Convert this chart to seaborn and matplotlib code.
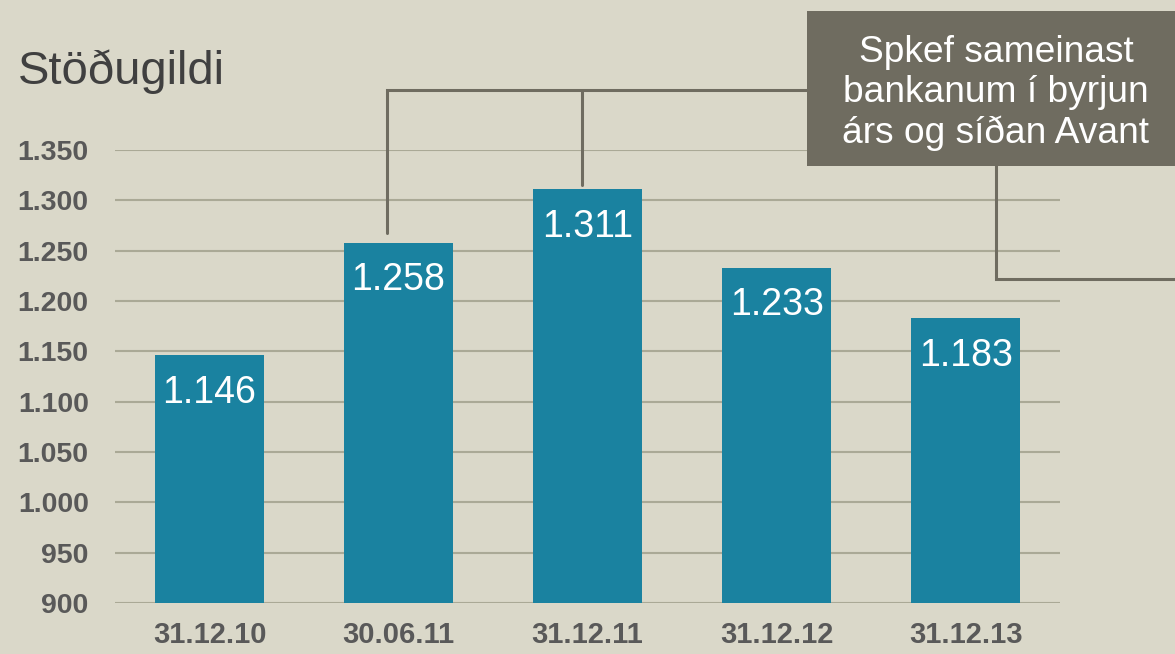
import matplotlib
matplotlib.use("Agg")
import matplotlib.pyplot as plt
import seaborn as sns
from matplotlib.patches import Rectangle

dates = ["31.12.10", "30.06.11", "31.12.11", "31.12.12", "31.12.13"]
stodugildi = [1146, 1258, 1311, 1233, 1183]
yticks = [900, 950, 1000, 1050, 1100, 1150, 1200, 1250, 1300, 1350]
note = "Spkef sameinast\nbankanum í byrjun\nárs og síðan Avant"

bg = "#DAD8C9"
bar_col = "#1A82A0"
dark = "#6F6C60"

sns.set_theme(style="white")
plt.rcParams["font.family"] = ["Liberation Sans", "DejaVu Sans"]

fig = plt.figure(figsize=(11.75, 6.54), dpi=100, facecolor=bg)
ax = fig.add_axes([0.0979, 0.078, 0.8043, 0.6927])
ax.set_facecolor(bg)

sns.barplot(x=dates, y=stodugildi, color=bar_col, saturation=1, width=0.58,
            linewidth=0, ax=ax, zorder=3)

ax.set_ylim(900, 1350)
ax.set_yticks(yticks)
ax.set_yticklabels([f"{v:,}".replace(",", ".") for v in yticks])
ax.grid(axis="y", color="#AAA996", linewidth=1.5, zorder=0)
ax.set_axisbelow(True)
for s in ax.spines.values():
    s.set_visible(False)
ax.tick_params(axis="y", length=0, pad=19, labelsize=20.5, labelcolor="#595959")
ax.tick_params(axis="x", length=0, pad=13, labelsize=21, labelcolor="#595959")
for lab in ax.get_xticklabels() + ax.get_yticklabels():
    lab.set_fontweight("bold")

# value labels inside the bars
for i, v in enumerate(stodugildi):
    ax.annotate(f"{v:,}".replace(",", "."), (i, v), xytext=(0, -14),
                textcoords="offset points", ha="center", va="top",
                color="white", fontsize=27, zorder=4)

fig.text(18 / 1175, 1 - 84 / 654, "Stöðugildi", fontsize=34, color="#404040",
         ha="left", va="baseline")

# annotation box
fig.patches.append(Rectangle((807 / 1175, 1 - 166 / 654), 0.4, 155 / 654,
                             transform=fig.transFigure, facecolor=dark,
                             edgecolor="none", zorder=5))
fig.text(996 / 1175, 1 - 93 / 654, note, ha="center", va="center",
         color="white", fontsize=26.7, linespacing=1.2, zorder=6)

# connector lines
lw = 2.2
ax.plot([0.94, 0.94, 4.2], [1268, 1410, 1410], color=dark, lw=lw,
        clip_on=False, zorder=4, solid_joinstyle="miter")
ax.plot([1.97, 1.97], [1410, 1315], color=dark, lw=lw, clip_on=False, zorder=4)
ax.plot([4.16, 4.16, 5.3], [1340, 1222, 1222], color=dark, lw=lw,
        clip_on=False, zorder=4, solid_joinstyle="miter")

ax.set_xlim(-0.5, 4.5)
fig.savefig("out.png", dpi=100, facecolor=bg)
